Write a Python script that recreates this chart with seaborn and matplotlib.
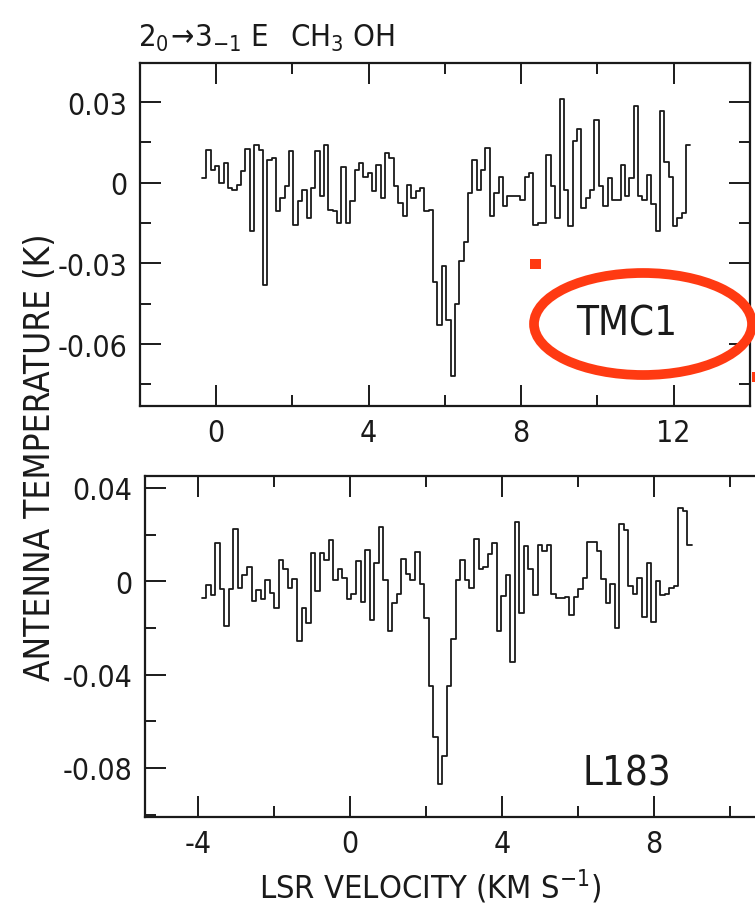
import numpy as np
import pandas as pd
import matplotlib
matplotlib.use("Agg")
import matplotlib.pyplot as plt
from matplotlib import font_manager
from matplotlib.font_manager import FontProperties
from matplotlib.patches import Ellipse, Rectangle
from matplotlib.ticker import MultipleLocator, FixedLocator
import seaborn as sns

# ---------------- data ----------------
# TMC1 spectrum (antenna temperature, mK), channels from low to high velocity
tmc1_vel_range = [-0.37, 12.44]          # km/s, first and last channel edge
tmc1_mK = [1.7, 12.3, 4.8, 6.3, -0.1, 7.5, -2, -2.6, -0.7, 4.2, 12.5, -18, 14.1, 12.3,
           -38, 8.5, 9.2, -10.6, -5.7, -1.3, 11.7, -15.6, -6.9, -2.6, -13, -2, 11.7, -5,
           14.1, -10, -10.6, -15, 6, -15, -6.9, 4.8, 7.5, 2.3, 3.6, -3.2, 6.7, -5.7, 11,
           9.2, -1.3, -7.5, -12.5, -0.7, -5.7, -3.2, -2, -10.6, -10, -37, -53, -31, -51,
           -72, -45, -29, -22, -4, 8.5, -2.6, 4.8, 13, -12.5, -3.8, 2.3, -8.7, -4.8, -4.8,
           -4.8, -6.3, 2, 3.6, -15.6, -15, -15, 10.4, -1.3, -13, 31, -2.6, -16, 15.4, 20,
           -9.4, -5.7, -2.6, 23.4, -1.3, -8.7, 1.7, -6.3, -6.3, 6.7, -5, 1.7, 28.4, -5,
           -6.3, 3, -8, -18, 26.6, 7.8, 2.3, -16, -13, -11.2, 14.1]

# L183 spectrum (antenna temperature, mK)
l183_vel_range = [-3.9, 9.0]
l183_mK = [-7.0, -1.7, -6.0, 16.6, -3.4, -19.1, -3.4, 22.6, -2.7, 2.6, 6.3, -8.4, -3.9,
           -7.7, 0.6, -4.9, -11.3, 9.1, 5.1, -2.7, 0.9, -25.6, -11.3, -18, 12, -4.1, 12.3,
           9.1, 17.7, 0.6, 5.4, 1.6, -7.7, -5.6, 8.7, -8.9, 13.4, -16.6, 7.7, 23.4, 0.6,
           -21.3, -9.1, -5.6, 9.7, 3, 0.6, 12.6, -1, -15.6, -45, -66.6, -87, -75, -45,
           -24.9, 0.6, 9.1, 0.6, -2.7, 18, 5.1, 6.3, 11.6, 16.3, -21.3, -6.3, 2.6, -34.6,
           25.2, -13.4, 15.1, 5.1, -6, 15.4, 13, 15.4, -5.6, -7, -7, -6.6, -14.6, -6.6,
           -3.4, 1.6, 16.8, 16.8, 13, 0.9, -9.1, -1.3, -19.9, 24.4, 22, -2, -5.6, 1.6,
           -15.4, 8, -17.4, 0.3, -6, -5.6, -2.7, -2, 31.6, 30.1, 15.4]

top_xticks = [0, 4, 8, 12]
top_yticks = [-0.06, -0.03, 0, 0.03]
top_yticklabels = ["-0.06", "-0.03", "0", "0.03"]
bot_xticks = [-4, 0, 4, 8]
bot_yticks = [-0.08, -0.04, 0, 0.04]
bot_yticklabels = ["-0.08", "-0.04", "0", "0.04"]

title_left = r"$2_0\!\rightarrow\!3_{-1}$ E"
title_right = r"CH$_3$ OH"
ylabel_text = "ANTENNA TEMPERATURE (K)"
xlabel_text = r"LSR VELOCITY (KM S$^{-1}$)"
label_top = "TMC1"
label_bot = "L183"

# ---------------- style ----------------
sns.set_style("ticks")
plt.rcParams["font.family"] = ["Liberation Sans", "DejaVu Sans"]
plt.rcParams["axes.unicode_minus"] = False

# look for a condensed / narrow face (the original lettering is narrow)
cond_path = None
for f in font_manager.fontManager.ttflist:
    nm = f.name.lower()
    is_narrow = ("narrow" in nm or "condensed" in nm or
                 f.stretch in ("condensed", "semi-condensed", 75, 87))
    if is_narrow and f.style == "normal" and f.weight in (400, "normal", "regular", "book"):
        if "oblique" in f.fname.lower() or "bold" in f.fname.lower():
            continue
        cond_path = f.fname
        break

if cond_path:
    fam_name = FontProperties(fname=cond_path).get_name()
    scale = 1.2
else:
    fam_name = "Liberation Sans"
    scale = 1.0

plt.rcParams["mathtext.fontset"] = "custom"
plt.rcParams["mathtext.rm"] = fam_name
plt.rcParams["mathtext.default"] = "regular"


def fp(size):
    if cond_path:
        return FontProperties(fname=cond_path, size=size * scale)
    return FontProperties(family=["Liberation Sans", "DejaVu Sans"], size=size)


INK = "#1a1a1a"


def spectrum_frame(vrange, vals_mK):
    n = len(vals_mK)
    edges = np.linspace(vrange[0], vrange[1], n + 1)
    t = np.array(vals_mK + [vals_mK[-1]]) / 1000.0
    return pd.DataFrame({"v": edges, "t": t})


fig = plt.figure(figsize=(7.55, 9.12), dpi=100)
W, H = 755.0, 912.0


def axes_px(l, r, t, b):
    return fig.add_axes([l / W, 1 - b / H, (r - l) / W, (b - t) / H])


ax1 = axes_px(140, 750, 64, 407)
ax2 = axes_px(145, 755, 477, 818)

for ax, vr, vals in [(ax1, tmc1_vel_range, tmc1_mK), (ax2, l183_vel_range, l183_mK)]:
    df = spectrum_frame(vr, vals)
    sns.lineplot(data=df, x="v", y="t", ax=ax, drawstyle="steps-post",
                 color=INK, linewidth=1.3, sort=False, estimator=None)
    ax.set_xlabel("")
    ax.set_ylabel("")
    for s in ax.spines.values():
        s.set_linewidth(1.6)
        s.set_color(INK)
    ax.tick_params(which="both", direction="in", top=True, right=True,
                   width=1.4, color=INK, labelcolor=INK)
    ax.tick_params(which="major", length=15)
    ax.tick_params(which="minor", length=8)
    ax.tick_params(axis="x", pad=9)
    ax.tick_params(axis="y", pad=9)

ax1.set_xlim(-1.99, 14.0)
ax1.set_ylim(-0.083, 0.0445)
ax1.xaxis.set_major_locator(FixedLocator(top_xticks))
ax1.set_xticklabels([str(v) for v in top_xticks])
ax1.xaxis.set_minor_locator(MultipleLocator(2))
ax1.yaxis.set_major_locator(FixedLocator(top_yticks))
ax1.set_yticklabels(top_yticklabels)
ax1.yaxis.set_minor_locator(MultipleLocator(0.015))

ax2.set_xlim(-5.39, 10.66)
ax2.set_ylim(-0.101, 0.0451)
ax2.xaxis.set_major_locator(FixedLocator(bot_xticks))
ax2.set_xticklabels([str(v) for v in bot_xticks])
ax2.xaxis.set_minor_locator(MultipleLocator(2))
ax2.yaxis.set_major_locator(FixedLocator(bot_yticks))
ax2.set_yticklabels(bot_yticklabels)
ax2.yaxis.set_minor_locator(MultipleLocator(0.02))
ax2.spines["right"].set_visible(False)
ax2.tick_params(which="both", right=False)

for ax in (ax1, ax2):
    for lab in ax.get_xticklabels() + ax.get_yticklabels():
        lab.set_fontproperties(fp(18))

# texts
fig.text(138 / W, 1 - 47 / H, title_left, fontproperties=fp(18.5), color=INK,
         ha="left", va="baseline")
fig.text(290 / W, 1 - 47 / H, title_right, fontproperties=fp(18.5), color=INK,
         ha="left", va="baseline")
fig.text(40 / W, 1 - 457 / H, ylabel_text, fontproperties=fp(21), color=INK, rotation=90,
         ha="center", va="center")
fig.text(430 / W, 1 - 887 / H, xlabel_text, fontproperties=fp(19.5), color=INK,
         ha="center", va="center")
fig.text(627 / W, 1 - 325 / H, label_top, fontproperties=fp(24), color=INK,
         ha="center", va="center")
fig.text(627 / W, 1 - 775 / H, label_bot, fontproperties=fp(24), color=INK,
         ha="center", va="center")

# red annotation marks
RED = "#ff3a12"
ell = Ellipse((643 / W, 1 - 325 / H), 218 / W, 102 / H, transform=fig.transFigure,
              fill=False, edgecolor=RED, linewidth=7, zorder=20)
fig.add_artist(ell)
fig.add_artist(Rectangle((530 / W, 1 - 270 / H), 11 / W, 10 / H, transform=fig.transFigure,
                         facecolor=RED, edgecolor="none", zorder=20))
fig.add_artist(Rectangle((752 / W, 1 - 383 / H), 3 / W, 10 / H, transform=fig.transFigure,
                         facecolor=RED, edgecolor="none", zorder=20))

fig.savefig("out.png", dpi=100, facecolor="white")
